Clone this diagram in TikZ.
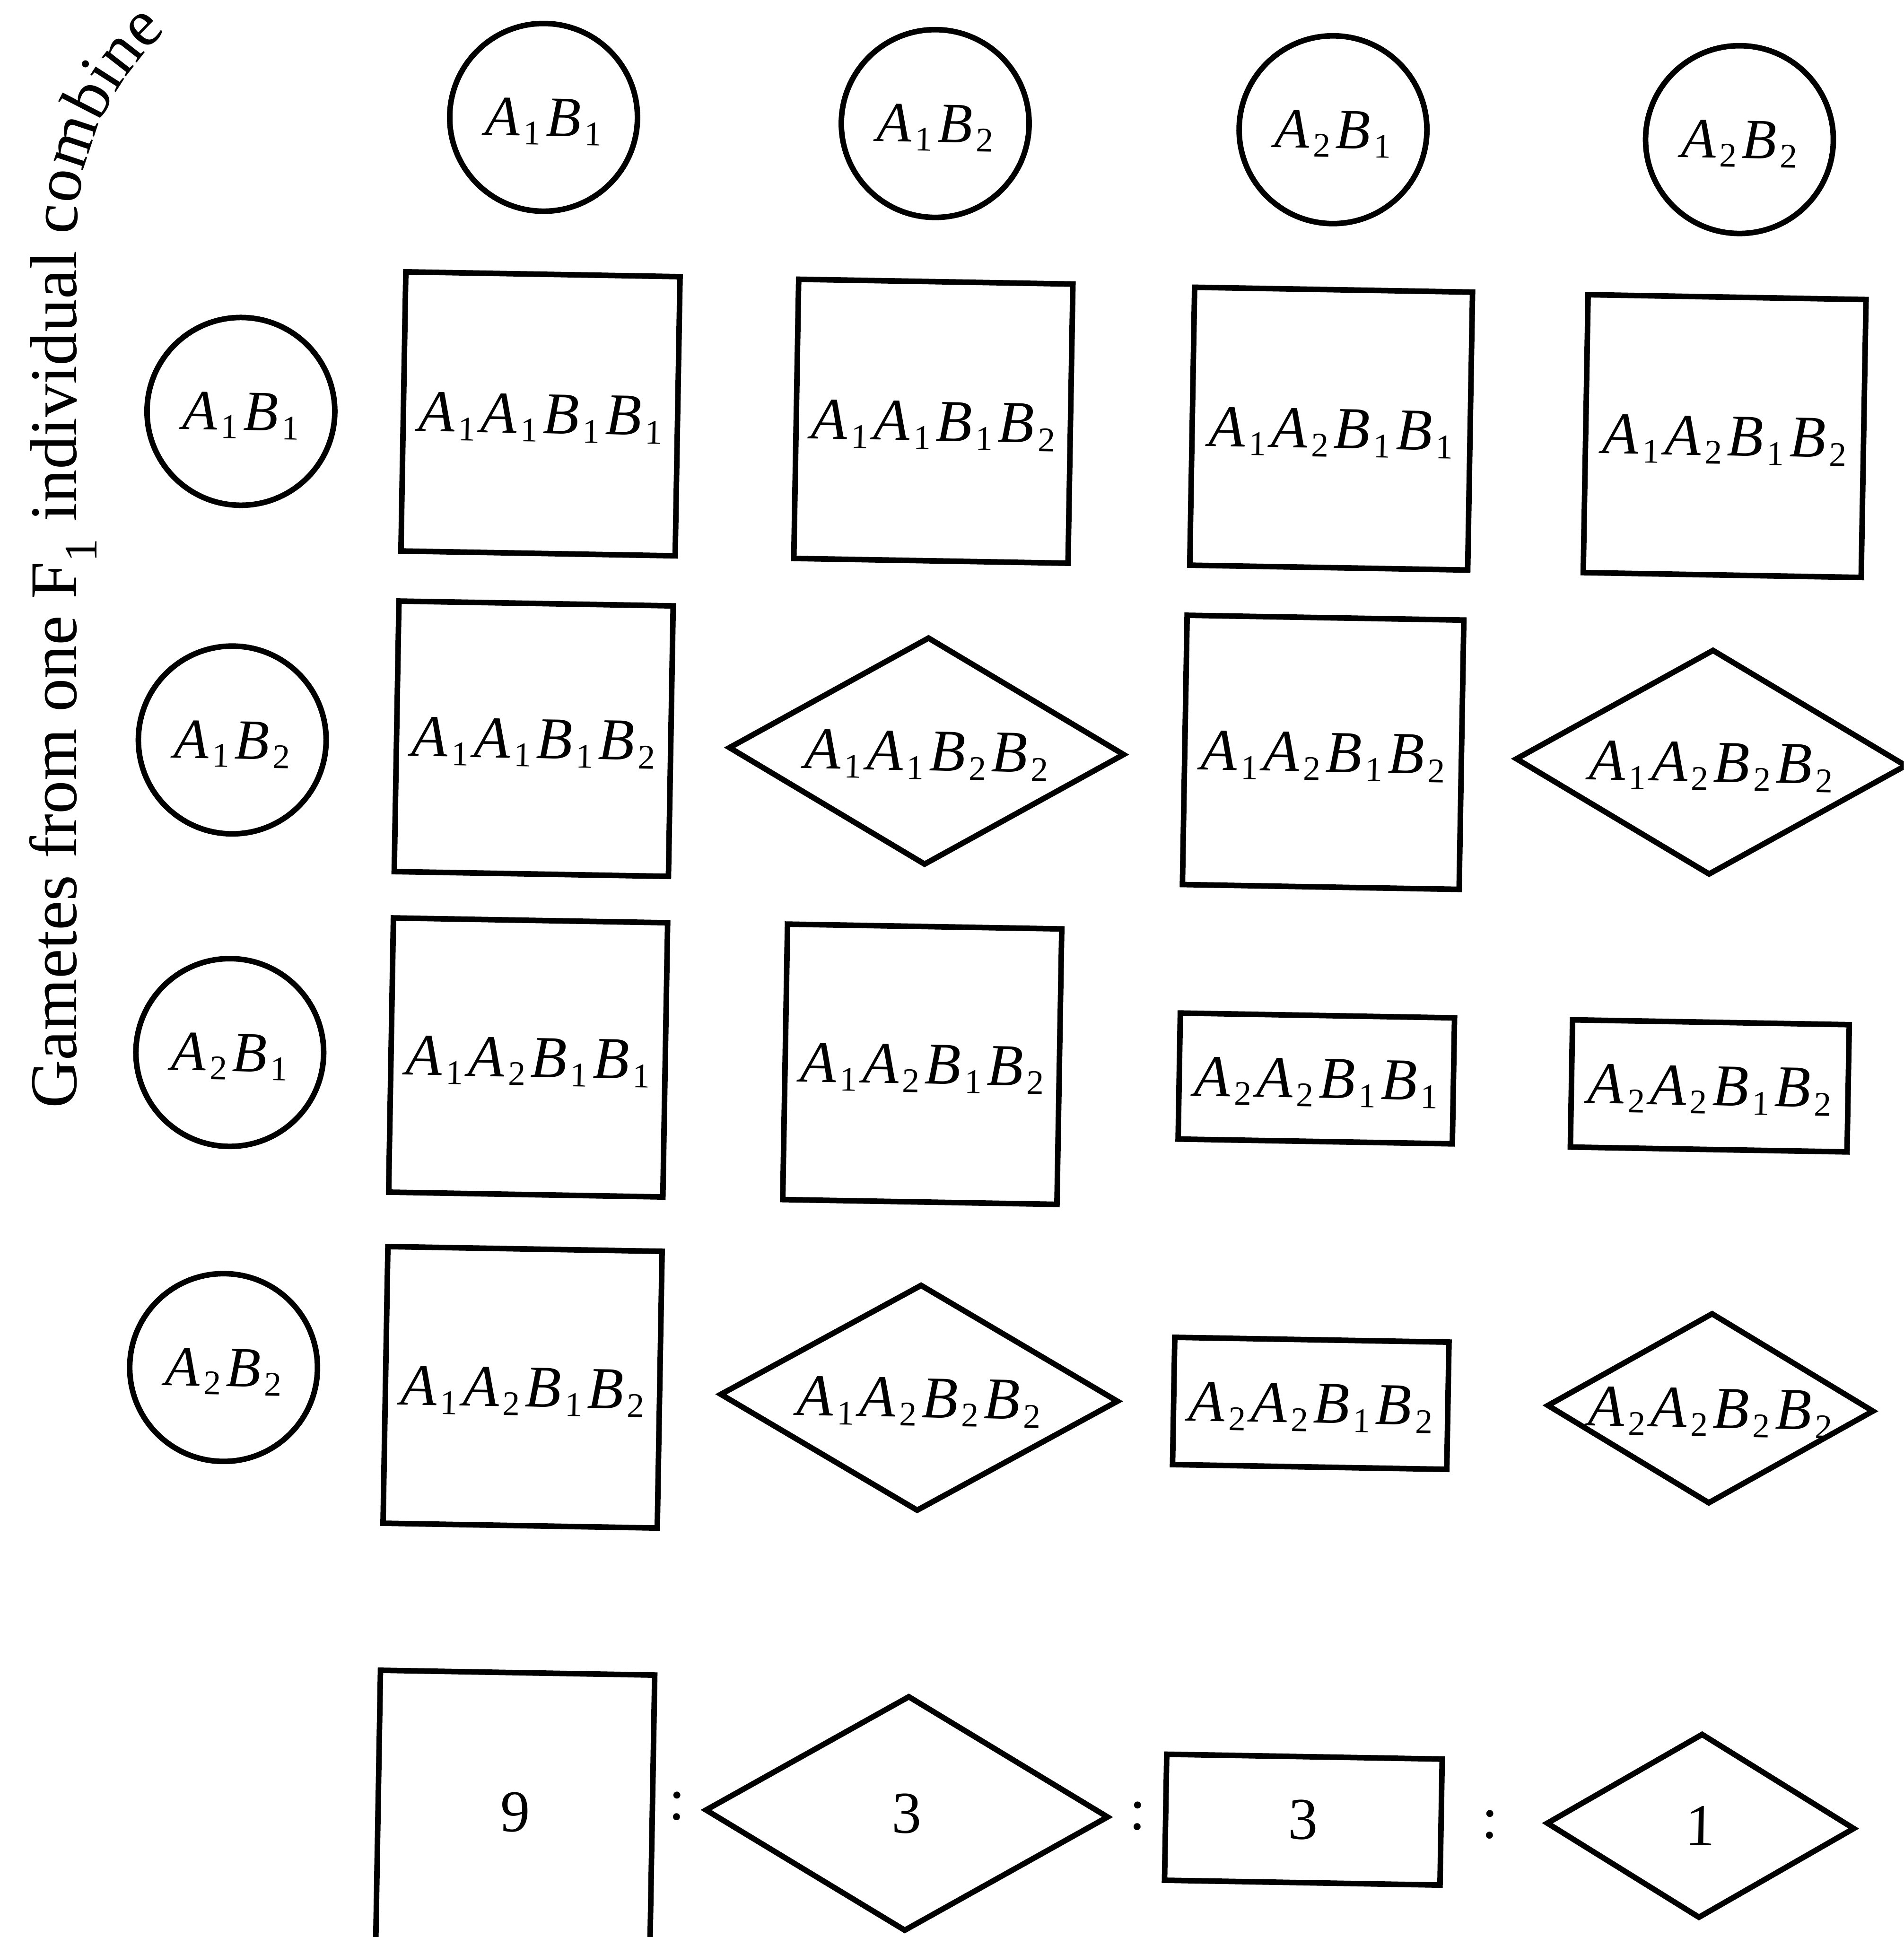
\documentclass[tikz,border=0pt]{standalone}
\usepackage{fontspec}
\setmainfont{Liberation Serif}
\usetikzlibrary{shapes.geometric,decorations.text}
\newcommand\gn[2]{\kern2pt\textit{#1}\kern3pt\raisebox{-7pt}[0pt][0pt]{\fontsize{28}{28}\selectfont #2}\kern2pt}
\begin{document}
\begin{tikzpicture}[x=1pt,y=-1pt,
  every node/.style={inner sep=0pt, outer sep=0pt},
  gam/.style={circle, draw, line width=4.5pt, minimum size=152pt, font=\fontsize{46}{46}\selectfont, rotate=-1},
  sqcell/.style={rectangle, draw, line width=4.5pt, font=\fontsize{48}{48}\selectfont, rotate=-1},
  diacell/.style={diamond, draw, line width=4.5pt, rotate=-1},
  gtext/.style={font=\fontsize{48}{48}\selectfont, rotate=-1},
  numtext/.style={font=\fontsize{48}{48}\selectfont, rotate=-1},
]
\useasboundingbox (0,0) rectangle (1541,1568);
\clip (0,0) rectangle (1541,1568);

% side label
\node[rotate=90, anchor=base east, font=\fontsize{54}{54}\selectfont] (side) at (62,203) {Gametes from one F\textsubscript{1} individual};
\path[decorate, decoration={text along path, text={|\fontsize{54}{54}\selectfont|combine}, text align=left}]
  (62,190) arc[start angle=180, end angle=240, radius=224];

% gametes (columns)
\node[gam] (t1) at (440,95) {\gn{A}{1}\gn{B}{1}};
\node[gam] (t2) at (757,100) {\gn{A}{1}\gn{B}{2}};
\node[gam] (t3) at (1079,105) {\gn{A}{2}\gn{B}{1}};
\node[gam] (t4) at (1408,113) {\gn{A}{2}\gn{B}{2}};
% gametes (rows)
\node[gam] (l1) at (195,333) {\gn{A}{1}\gn{B}{1}};
\node[gam] (l2) at (188,599) {\gn{A}{1}\gn{B}{2}};
\node[gam] (l3) at (186,852) {\gn{A}{2}\gn{B}{1}};
\node[gam] (l4) at (181,1107) {\gn{A}{2}\gn{B}{2}};

% row 1
\node[sqcell, minimum width=222pt, minimum height=226pt] (c11) at (437.5,335) {\gn{A}{1}\gn{A}{1}\gn{B}{1}\gn{B}{1}};
\node[sqcell, minimum width=222pt, minimum height=226pt] (c12) at (755.5,341) {\gn{A}{1}\gn{A}{1}\gn{B}{1}\gn{B}{2}};
\node[sqcell, minimum width=225pt, minimum height=225pt] (c13) at (1077.5,347) {\gn{A}{1}\gn{A}{2}\gn{B}{1}\gn{B}{1}};
\node[sqcell, minimum width=225pt, minimum height=225pt] (c14) at (1396,353) {\gn{A}{1}\gn{A}{2}\gn{B}{1}\gn{B}{2}};
% row 2
\node[sqcell, minimum width=222pt, minimum height=219pt] (c21) at (432,598) {\gn{A}{1}\gn{A}{1}\gn{B}{1}\gn{B}{2}};
\node[diacell, minimum width=319pt, minimum height=183pt] (c22) at (750,608) {};
\node[gtext] (c22t) at (c22) {\gn{A}{1}\gn{A}{1}\gn{B}{2}\gn{B}{2}};
\node[sqcell, minimum width=224pt, minimum height=218pt] (c23) at (1071,609) {\gn{A}{1}\gn{A}{2}\gn{B}{1}\gn{B}{2}};
\node[diacell, minimum width=315pt, minimum height=181pt] (c24) at (1385,617) {};
\node[gtext] (c24t) at (c24) {\gn{A}{1}\gn{A}{2}\gn{B}{2}\gn{B}{2}};
% row 3
\node[sqcell, minimum width=222pt, minimum height=222pt] (c31) at (427.5,856) {\gn{A}{1}\gn{A}{2}\gn{B}{1}\gn{B}{1}};
\node[sqcell, minimum width=222pt, minimum height=223pt] (c32) at (746.5,861.5) {\gn{A}{1}\gn{A}{2}\gn{B}{1}\gn{B}{2}};
\node[sqcell, minimum width=222pt, minimum height=102pt] (c33) at (1065.5,873) {\gn{A}{2}\gn{A}{2}\gn{B}{1}\gn{B}{1}};
\node[sqcell, minimum width=224pt, minimum height=103pt] (c34) at (1384,879) {\gn{A}{2}\gn{A}{2}\gn{B}{1}\gn{B}{2}};
% row 4
\node[sqcell, minimum width=222pt, minimum height=224pt] (c41) at (423,1123) {\gn{A}{1}\gn{A}{2}\gn{B}{1}\gn{B}{2}};
\node[diacell, minimum width=321pt, minimum height=182pt] (c42) at (744,1131.5) {};
\node[gtext] (c42t) at (c42) {\gn{A}{1}\gn{A}{2}\gn{B}{2}\gn{B}{2}};
\node[sqcell, minimum width=222pt, minimum height=103pt] (c43) at (1061,1136) {\gn{A}{2}\gn{A}{2}\gn{B}{1}\gn{B}{2}};
\node[diacell, minimum width=263pt, minimum height=153pt] (c44) at (1384.5,1140) {};
\node[gtext] (c44t) at (c44) {\gn{A}{2}\gn{A}{2}\gn{B}{2}\gn{B}{2}};

% ratio row
\node[sqcell, minimum width=222pt, minimum height=226pt] (b1) at (417,1467) {9};
\node[numtext] (k1) at (548,1462) {:};
\node[diacell, minimum width=325pt, minimum height=189pt] (b2) at (734,1468) {};
\node[numtext] (b2t) at (b2) {3};
\node[numtext] (k2) at (921,1470) {:};
\node[sqcell, minimum width=223pt, minimum height=102pt] (b3) at (1055,1473) {3};
\node[numtext] (k3) at (1206,1477) {:};
\node[diacell, minimum width=248pt, minimum height=148pt] (b4) at (1376.5,1478) {};
\node[numtext] (b4t) at (b4) {1};
\end{tikzpicture}
\end{document}
